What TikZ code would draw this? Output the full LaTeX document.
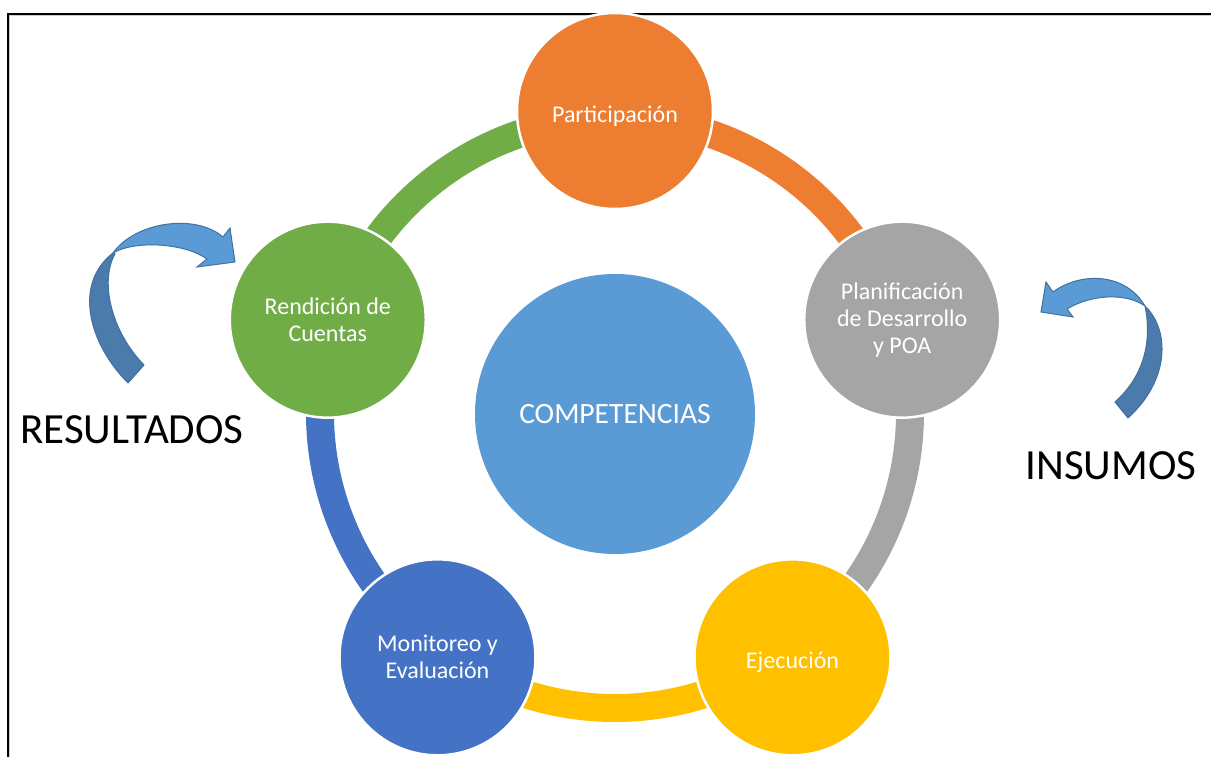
\documentclass[tikz,border=0pt]{standalone}
\usepackage{fontspec}
\setmainfont{Carlito}
\usepackage{tikz}
\usetikzlibrary{positioning}
\definecolor{cycorange}{HTML}{ED7D31}
\definecolor{cycgray}{HTML}{A5A5A5}
\definecolor{cycyellow}{HTML}{FFC000}
\definecolor{cycblue}{HTML}{4472C4}
\definecolor{cycgreen}{HTML}{70AD47}
\definecolor{hubblue}{HTML}{5B9BD5}
\definecolor{arrowlight}{HTML}{5B9BD5}
\definecolor{arrowdark}{HTML}{4A7BAC}
\definecolor{arrowline}{HTML}{41719C}

\tikzset{
  stage/.style={circle, minimum size=196pt, inner sep=0pt, draw=white,
    line width=2.5pt, text=white, align=center,
    font=\fontsize{24}{27}\selectfont,
    execute at begin node={\rule{0pt}{26pt}}},
  hub/.style={circle, minimum size=280pt, inner sep=0pt, fill=hubblue,
    text=white, font=\fontsize{29.5}{34}\selectfont},
  ring/.style={line width=28pt},
  sidelabel/.style={font=\fontsize{43}{50}\selectfont, inner sep=0pt},
  turnlight/.style={fill=arrowlight, draw=arrowline, line width=1pt},
  turndark/.style={fill=arrowdark, draw=arrowline, line width=1pt}
}

\begin{document}
\begin{tikzpicture}[x=1pt, y=1pt]
  \useasboundingbox (-615,-344) rectangle (596,413);
  % frame
  \draw[line width=2pt, black!20] (-605.5,-344) -- (-605.5,397.5) -- (596,397.5);
  \draw[line width=2pt] (-607,-344) -- (-607,399) -- (596,399);

  % ring segments
  \coordinate (r1) at (90:295);
  \coordinate (r2) at (18:295);
  \coordinate (r3) at (-54:295);
  \coordinate (r4) at (-126:295);
  \coordinate (r5) at (162:295);
  \draw[ring, cycorange] (r1) arc[start angle=90, end angle=18, radius=295];
  \draw[ring, cycgray] (r2) arc[start angle=18, end angle=-54, radius=295];
  \draw[ring, cycyellow] (r3) arc[start angle=-54, end angle=-126, radius=295];
  \draw[ring, cycblue] (r4) arc[start angle=-126, end angle=-198, radius=295];
  \draw[ring, cycgreen] (r5) arc[start angle=162, end angle=90, radius=295];

  % stages
  \node[stage, fill=cycorange] (part) at (90:302) {Participación};
  \node[stage, fill=cycgray] (plan) at (18:302) {Planificación\\de Desarrollo\\y POA};
  \node[stage, fill=cycyellow] (ejec) at (-54:302) {Ejecución};
  \node[stage, fill=cycblue] (moni) at (-126:302) {Monitoreo y\\Evaluación};
  \node[stage, fill=cycgreen] (rend) at (162:302) {Rendición de\\Cuentas};
  \node[hub] (comp) at (0,-1) {COMPETENCIAS};

  % curved arrows
  \draw[turndark] (-487,30) .. controls (-525,68) and (-543,128) .. (-502,160)
    -- (-500,159) .. controls (-515,133) and (-505,83) .. (-471,48) -- cycle;
  \draw[turnlight] (-502,160) .. controls (-480,191) and (-420,200) .. (-392,176)
    -- (-385,185) -- (-380,151) -- (-418,146) -- (-408,154)
    .. controls (-430,170) and (-480,173) .. (-502,160) -- cycle;
  \draw[turnlight] (530,107) .. controls (510,141) and (465,141) .. (438,121)
    -- (431,131) -- (426,101) -- (458,96) -- (452,104)
    .. controls (475,118) and (510,121) .. (530,107) -- cycle;
  \draw[turndark] (530,107) .. controls (555,83) and (555,33) .. (513,-5)
    -- (500,11) .. controls (530,38) and (537,73) .. (530,107) -- cycle;

  % side labels
  \node[sidelabel] (res) at (-483,-17) {RESULTADOS};
  \node[sidelabel] (ins) at (496,-53) {INSUMOS};
\end{tikzpicture}
\end{document}
